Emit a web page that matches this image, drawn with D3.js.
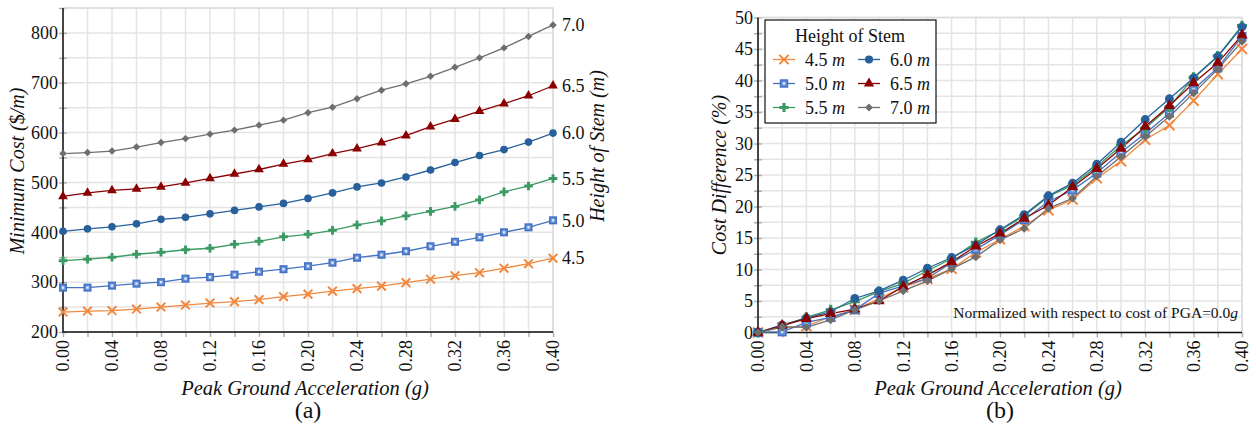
<!DOCTYPE html>
<html>
<head>
<meta charset="utf-8">
<script src="https://cdn.jsdelivr.net/npm/d3@7"></script>
<style>
  body { margin: 0; background: #fff; }
  svg text { font-family: 'Liberation Serif', 'DejaVu Serif', serif; fill: #111; }
</style>
</head>
<body>
<svg id="chart" width="1256" height="436"></svg>
<script>
const pga = [0.00, 0.02, 0.04, 0.06, 0.08, 0.10, 0.12, 0.14, 0.16, 0.18, 0.20,
             0.22, 0.24, 0.26, 0.28, 0.30, 0.32, 0.34, 0.36, 0.38, 0.40];
const heights = ['4.5', '5.0', '5.5', '6.0', '6.5', '7.0'];

// (a) minimum cost, $/m
const cost45 = [240, 242, 243, 246, 250, 254, 258, 261, 265, 271, 276, 282, 287, 292, 299, 306, 313, 319, 328, 337, 348];
const cost50 = [289, 289, 293, 297, 300, 307, 310, 315, 321, 326, 332, 339, 349, 355, 362, 372, 381, 390, 400, 410, 424];
const cost55 = [343, 346, 350, 356, 360, 365, 368, 376, 382, 391, 396, 404, 415, 423, 433, 442, 452, 465, 481, 493, 508];
const cost60 = [402, 407, 411, 417, 426, 430, 437, 444, 451, 458, 468, 479, 491, 499, 511, 525, 540, 554, 566, 581, 599];
const cost65 = [472, 479, 484, 487, 491, 499, 508, 517, 526, 537, 546, 558, 568, 580, 594, 612, 627, 643, 658, 674, 694];
const cost70 = [558, 560, 563, 571, 580, 588, 597, 605, 615, 625, 640, 651, 668, 685, 698, 713, 731, 750, 770, 793, 816];

// (b) cost difference, %
const diff45 = [0, 0.8, 1.0, 2.5, 3.6, 5.4, 7.2, 8.5, 10.1, 12.7, 14.8, 16.9, 19.4, 21.1, 24.5, 27.2, 30.6, 32.9, 36.8, 41.0, 45.0];
const diff50 = [0, 0.1, 1.6, 2.4, 3.6, 6.2, 7.4, 8.6, 11.1, 13.2, 15.5, 17.9, 20.8, 22.6, 25.3, 28.6, 31.6, 34.8, 38.6, 42.0, 47.0];
const diff55 = [0, 1.0, 2.4, 3.6, 4.9, 6.5, 7.8, 9.8, 11.7, 14.3, 16.2, 18.5, 21.6, 23.4, 26.3, 29.7, 32.4, 35.8, 40.5, 43.9, 48.7];
const diff60 = [0, 1.2, 2.3, 3.3, 5.4, 6.6, 8.3, 10.2, 11.9, 13.9, 16.3, 18.7, 21.7, 23.7, 26.7, 30.2, 33.8, 37.1, 40.4, 43.8, 48.5];
const diff65 = [0, 1.1, 2.2, 3.0, 3.7, 5.0, 7.3, 9.1, 11.2, 13.7, 15.7, 18.1, 20.2, 23.1, 26.0, 29.2, 32.7, 36.0, 39.6, 42.8, 47.2];
const diff70 = [0, 0.9, 0.8, 2.0, 3.6, 5.0, 6.6, 8.2, 10.1, 12.0, 14.7, 16.5, 19.7, 21.3, 24.8, 27.9, 31.1, 34.3, 38.0, 41.8, 46.2];

const colors = ['#f0883e', '#4472c4', '#3b9a62', '#27609a', '#8b0000', '#6e6e6e'];
const shapes = ['x', 'square', 'plus', 'circle', 'triangle', 'diamond'];

const FONT = "'Liberation Serif', 'DejaVu Serif', serif";
const svg = d3.select('#chart');
const gridColor = '#e4e4e4';
const tickColor = '#b0b0b0';

function marker(g, shape, color, s) {
  if (shape === 'x') {
    g.append('path').attr('d', d3.symbol(d3.symbolTimes, s * 1.1)())
      .attr('fill', 'none').attr('stroke', color).attr('stroke-width', 2);
  } else if (shape === 'square') {
    const w = Math.sqrt(s) * 0.95;
    g.append('rect').attr('x', -w / 2).attr('y', -w / 2).attr('width', w).attr('height', w)
      .attr('fill', '#6c93d8').attr('stroke', color).attr('stroke-width', 1.6);
    g.append('rect').attr('x', -1.2).attr('y', -1.2).attr('width', 2.4).attr('height', 2.4)
      .attr('fill', '#dfe8f7');
  } else if (shape === 'plus') {
    g.append('path').attr('d', d3.symbol(d3.symbolCross, s * 0.9)()).attr('fill', color);
  } else if (shape === 'circle') {
    g.append('path').attr('d', d3.symbol(d3.symbolCircle, s)()).attr('fill', color);
  } else if (shape === 'triangle') {
    g.append('path').attr('d', d3.symbol(d3.symbolTriangle, s * 0.9)()).attr('fill', color);
  } else {
    g.append('path').attr('d', d3.symbol(d3.symbolSquare, s * 0.6)())
      .attr('transform', 'rotate(45)').attr('fill', color);
  }
}

function frame(x, y, yGrid) {
  const [x0, x1] = x.range();
  const [y0, y1] = y.range();
  const g = svg.append('g');
  g.selectAll('.vg').data(pga).join('line')
    .attr('x1', d => x(d)).attr('x2', d => x(d)).attr('y1', y0).attr('y2', y1)
    .attr('stroke', gridColor).attr('stroke-width', 1.5);
  g.selectAll('.hg').data(yGrid).join('line')
    .attr('x1', x0).attr('x2', x1).attr('y1', d => y(d)).attr('y2', d => y(d))
    .attr('stroke', gridColor).attr('stroke-width', 1.5);
}

function axes(x, y, yTicks, yLabels, yFmt) {
  const [x0, x1] = x.range();
  const [y0, y1] = y.range();
  // small gray ticks
  const xa = svg.append('g').attr('transform', `translate(0,${y0})`)
    .call(d3.axisBottom(x).tickValues(pga).tickSize(5).tickFormat(''));
  xa.select('.domain').remove();
  xa.selectAll('.tick line').attr('stroke', tickColor).attr('stroke-width', 1.5);

  const xl = svg.append('g').attr('transform', `translate(0,${y0})`)
    .call(d3.axisBottom(x).tickValues(pga.filter((d, i) => i % 2 === 0)).tickSize(0)
      .tickFormat(d3.format('.2f')));
  xl.attr('font-family', FONT).attr('font-size', 18);
  xl.select('.domain').remove();
  xl.selectAll('text')
    .attr('transform', 'rotate(-90)')
    .attr('x', -8).attr('y', 0).attr('dy', '0.33em')
    .style('text-anchor', 'end');

  const ya = svg.append('g').attr('transform', `translate(${x0},0)`)
    .call(d3.axisLeft(y).tickValues(yTicks).tickSize(5).tickFormat(''));
  ya.select('.domain').remove();
  ya.selectAll('.tick line').attr('stroke', tickColor).attr('stroke-width', 1.5).attr('x2', 4).attr('x1', -4);

  const yl = svg.append('g').attr('transform', `translate(${x0},0)`)
    .call(d3.axisLeft(y).tickValues(yLabels).tickSize(0).tickPadding(5).tickFormat(yFmt));
  yl.attr('font-family', FONT).attr('font-size', 18);
  yl.select('.domain').remove();

  // top/right border, then black left/bottom axis lines
  svg.append('path').attr('d', `M${x0},${y1}H${x1}V${y0}`)
    .attr('fill', 'none').attr('stroke', '#dcdcdc').attr('stroke-width', 1.5);
  svg.append('path').attr('d', `M${x0},${y1}V${y0}H${x1}`)
    .attr('fill', 'none').attr('stroke', '#111').attr('stroke-width', 1.5);
}

function series(x, y, sets, size) {
  sets.forEach((vals, i) => {
    const line = d3.line().x((d, j) => x(pga[j])).y(d => y(d));
    svg.append('path').datum(vals).attr('d', line)
      .attr('fill', 'none').attr('stroke', colors[i]).attr('stroke-width', 1.3);
  });
  sets.forEach((vals, i) => {
    vals.forEach((v, j) => {
      const g = svg.append('g').attr('transform', `translate(${x(pga[j])},${y(v)})`);
      marker(g, shapes[i], colors[i], size);
    });
  });
}

function italicTitle(x, y, parts, rotate, size) {
  const t = svg.append('text')
    .attr('transform', `translate(${x},${y})` + (rotate ? ' rotate(-90)' : ''))
    .attr('text-anchor', 'middle').attr('font-family', FONT).attr('font-size', size);
  parts.forEach(([s, it]) => t.append('tspan').text(s).attr('font-style', it ? 'italic' : 'normal'));
  return t;
}

// ---------- (a) ----------
const xA = d3.scaleLinear().domain([0, 0.4]).range([63, 553]);
const yA = d3.scaleLinear().domain([200, 850]).range([332, 8]);
const costSets = [cost45, cost50, cost55, cost60, cost65, cost70];

frame(xA, yA, d3.range(200, 851, 50));
axes(xA, yA, d3.range(200, 851, 50), d3.range(200, 801, 100), d3.format('d'));
series(xA, yA, costSets, 46);

// right-side axis: height of stem label at the end of each curve
const rightAx = svg.append('g').attr('transform', `translate(553,0)`)
  .call(d3.axisRight(yA).tickValues(costSets.map(s => s[s.length - 1]))
    .tickSize(0).tickPadding(9).tickFormat((d, i) => heights[i]));
rightAx.attr('font-family', FONT).attr('font-size', 18);
rightAx.select('.domain').remove();

italicTitle(24, 171, [['Minimum Cost (', true], ['$', false], ['/m)', true]], true, 20);
italicTitle(604, 146, [['Height of Stem (', true], ['m', true], [')', true]], true, 20);
italicTitle(305, 395, [['Peak Ground Acceleration (', true], ['g', true], [')', true]], false, 20.5);
svg.append('text').attr('x', 308).attr('y', 418).attr('text-anchor', 'middle')
  .attr('font-family', FONT).attr('font-size', 24).text('(a)');

// ---------- (b) ----------
const xB = d3.scaleLinear().domain([0, 0.4]).range([758, 1242]);
const yB = d3.scaleLinear().domain([0, 50]).range([332.5, 17.5]);
const diffSets = [diff45, diff50, diff55, diff60, diff65, diff70];

frame(xB, yB, d3.range(0, 50.1, 2.5));
axes(xB, yB, d3.range(0, 50.1, 2.5), d3.range(0, 50.1, 5), d3.format('d'));
series(xB, yB, diffSets, 62);

italicTitle(726, 175, [['Cost Difference (%)', true]], true, 20);
italicTitle(998, 395, [['Peak Ground Acceleration (', true], ['g', true], [')', true]], false, 20.5);
svg.append('text').attr('x', 1000).attr('y', 418).attr('text-anchor', 'middle')
  .attr('font-family', FONT).attr('font-size', 24).text('(b)');

const note = svg.append('text').attr('x', 1238).attr('y', 318).attr('text-anchor', 'end')
  .attr('font-family', FONT).attr('font-size', 15.5);
note.append('tspan').text('Normalized with respect to cost of PGA=0.0');
note.append('tspan').text('g').attr('font-style', 'italic');

// legend
const lg = svg.append('g').attr('font-family', FONT);
lg.append('rect').attr('x', 765).attr('y', 20).attr('width', 171).attr('height', 103)
  .attr('fill', '#fff').attr('stroke', '#111').attr('stroke-width', 1.2);
lg.append('text').attr('x', 850).attr('y', 42).attr('text-anchor', 'middle')
  .attr('font-size', 18).text('Height of Stem');
heights.forEach((h, i) => {
  const col = Math.floor(i / 3), row = i % 3;
  const cx = 784 + col * 85, cy = 59.5 + row * 24;
  lg.append('line').attr('x1', cx - 11).attr('x2', cx + 11).attr('y1', cy).attr('y2', cy)
    .attr('stroke', colors[i]).attr('stroke-width', 1.3);
  const mg = lg.append('g').attr('transform', `translate(${cx},${cy})`);
  marker(mg, shapes[i], colors[i], 52);
  const t = lg.append('text').attr('x', cx + 21).attr('y', cy + 6).attr('font-size', 18);
  t.append('tspan').text(h + ' ');
  t.append('tspan').text('m').attr('font-style', 'italic');
});
</script>
</body>
</html>
